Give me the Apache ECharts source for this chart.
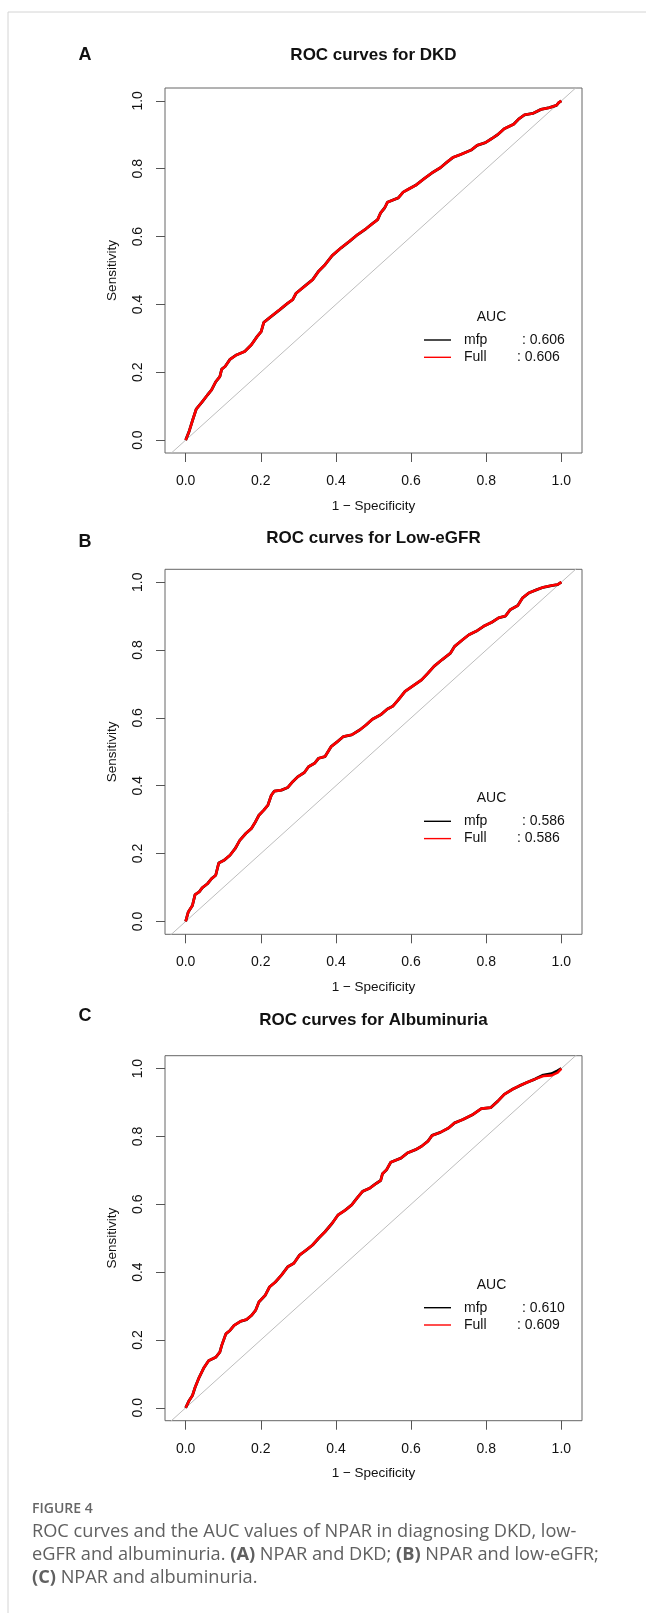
<!DOCTYPE html>
<html>
<head>
<meta charset="utf-8">
<script src="https://cdn.jsdelivr.net/npm/echarts@6/dist/echarts.min.js"></script>
<style>
html,body{margin:0;padding:0;background:#fff}
#chart{width:646px;height:1613px}
</style>
</head>
<body>
<div id="chart"></div>
<script>
// panel texts
const panelTitles = ['ROC curves for DKD', 'ROC curves for Low-eGFR', 'ROC curves for Albuminuria']
const panelLetters = ['A', 'B', 'C']
const aucMfp = ['0.606', '0.586', '0.610']
const aucFull = ['0.606', '0.586', '0.609']
const tickValues = [0, 0.2, 0.4, 0.6, 0.8, 1]
const diagonal = [[-0.1, -0.1], [1.1, 1.1]]

// ROC curves (1 - specificity, sensitivity)
const fprA = [0,0.009,0.018,0.028,0.044,0.058,0.069,0.080,0.091,0.096,0.105,0.118,0.135,0.157,0.175,0.190,0.201,0.208,0.228,0.250,0.272,0.285,0.294,0.316,0.338,0.354,0.371,0.390,0.414,0.436,0.458,0.480,0.497,0.511,0.519,0.530,0.537,0.566,0.579,0.595,0.612,0.634,0.656,0.678,0.694,0.711,0.732,0.760,0.776,0.798,0.815,0.831,0.848,0.873,0.886,0.902,0.924,0.946,0.968,0.987,0.993,1]
const tprA = [0,0.025,0.057,0.091,0.113,0.133,0.148,0.172,0.187,0.209,0.217,0.238,0.251,0.261,0.281,0.305,0.320,0.347,0.365,0.384,0.404,0.414,0.433,0.453,0.473,0.498,0.517,0.544,0.567,0.586,0.606,0.623,0.638,0.650,0.670,0.685,0.701,0.714,0.731,0.741,0.751,0.770,0.788,0.803,0.818,0.833,0.842,0.855,0.869,0.877,0.889,0.901,0.918,0.931,0.946,0.959,0.963,0.975,0.980,0.987,0.995,1]

const fprB = [0,0.007,0.018,0.025,0.036,0.044,0.058,0.069,0.080,0.088,0.102,0.118,0.132,0.144,0.160,0.175,0.186,0.195,0.208,0.219,0.228,0.236,0.255,0.272,0.285,0.299,0.316,0.327,0.343,0.354,0.371,0.387,0.404,0.420,0.442,0.464,0.480,0.497,0.519,0.537,0.551,0.566,0.584,0.606,0.628,0.645,0.661,0.683,0.705,0.716,0.738,0.754,0.776,0.793,0.815,0.833,0.851,0.864,0.884,0.897,0.913,0.935,0.952,0.974,0.990,1]
const tprB = [0,0.028,0.047,0.079,0.087,0.099,0.111,0.126,0.136,0.172,0.180,0.195,0.215,0.239,0.259,0.274,0.294,0.313,0.328,0.343,0.372,0.384,0.387,0.395,0.412,0.427,0.439,0.456,0.466,0.481,0.486,0.515,0.530,0.545,0.550,0.565,0.579,0.596,0.609,0.626,0.634,0.653,0.678,0.695,0.712,0.732,0.752,0.772,0.791,0.811,0.831,0.845,0.857,0.870,0.882,0.895,0.900,0.919,0.931,0.954,0.968,0.978,0.985,0.990,0.993,1]

const fprC = [0,0.009,0.018,0.025,0.036,0.049,0.061,0.080,0.091,0.096,0.107,0.118,0.129,0.146,0.162,0.175,0.186,0.195,0.212,0.223,0.239,0.255,0.272,0.288,0.303,0.321,0.338,0.354,0.371,0.390,0.406,0.425,0.442,0.456,0.471,0.491,0.508,0.519,0.524,0.535,0.546,0.573,0.590,0.612,0.628,0.645,0.656,0.678,0.700,0.716,0.738,0.765,0.787,0.812,0.831,0.848,0.870,0.888,0.908,0.930,0.952,0.974,0.990,1]
const tprC = [0,0.021,0.036,0.060,0.090,0.119,0.139,0.149,0.164,0.184,0.218,0.228,0.243,0.255,0.260,0.272,0.287,0.312,0.332,0.356,0.371,0.391,0.416,0.426,0.450,0.465,0.480,0.500,0.519,0.544,0.569,0.583,0.598,0.618,0.638,0.648,0.662,0.670,0.690,0.702,0.724,0.736,0.751,0.761,0.771,0.786,0.803,0.812,0.825,0.840,0.850,0.865,0.882,0.885,0.904,0.924,0.939,0.949,0.959,0.969,0.978,0.980,0.988,1]
// mfp curve in C only separates from Full at the very end
const tprCmfp = [0,0.021,0.036,0.060,0.090,0.119,0.139,0.149,0.164,0.184,0.218,0.228,0.243,0.255,0.260,0.272,0.287,0.312,0.332,0.356,0.371,0.391,0.416,0.426,0.450,0.465,0.480,0.500,0.519,0.544,0.569,0.583,0.598,0.618,0.638,0.648,0.662,0.670,0.690,0.702,0.724,0.736,0.751,0.761,0.771,0.786,0.803,0.812,0.825,0.840,0.850,0.865,0.882,0.885,0.904,0.924,0.939,0.949,0.959,0.969,0.981,0.985,0.994,1]

const zip = (xs, ys) => xs.slice(0, Math.min(xs.length, ys.length)).map((x, k) => [x, ys[k]])
const mfpCurves = [zip(fprA, tprA), zip(fprB, tprB), zip(fprC, tprCmfp)]
const fullCurves = [zip(fprA, tprA), zip(fprB, tprB), zip(fprC, tprC)]

// layout
const FONT = '"Liberation Sans", Arial, sans-serif'
const panelTops = [88, 569.3, 1055.7]
const titleY = [55, 538, 1020.7]
const letterY = [55, 541.7, 1016]
const boxLeft = 165, boxW = 417, boxH = 365

let grids = [], xAxes = [], yAxes = [], series = [], titles = [], legends = []

panelTops.forEach((top, i) => {
    grids.push({
        left: boxLeft, top: top, width: boxW, height: boxH,
        show: true, borderColor: '#666', borderWidth: 1, backgroundColor: 'transparent',
        containLabel: false, outerBoundsMode: 'none'
    })
    xAxes.push({
        type: 'value', gridIndex: i, min: -0.055, max: 1.055, position: 'bottom',
        axisLine: {show: false, onZero: false}, splitLine: {show: false},
        axisTick: {show: true, length: 9, customValues: tickValues, lineStyle: {color: '#555', width: 1}},
        axisLabel: {customValues: tickValues, formatter: v => v.toFixed(1), margin: 21, color: '#111', fontSize: 14, fontFamily: FONT},
        name: '1 \u2212 Specificity', nameLocation: 'middle', nameGap: 46,
        nameTextStyle: {color: '#111', fontSize: 13.5, fontFamily: FONT}
    })
    yAxes.push({
        type: 'value', gridIndex: i, min: -0.038, max: 1.038, position: 'left',
        axisLine: {show: false, onZero: false}, splitLine: {show: false},
        axisTick: {show: true, length: 9, customValues: tickValues, lineStyle: {color: '#555', width: 1}},
        axisLabel: {customValues: tickValues, formatter: v => v.toFixed(1), rotate: 90, margin: 20, color: '#111', fontSize: 14, fontFamily: FONT},
        name: 'Sensitivity', nameLocation: 'middle', nameGap: 46, nameRotate: 90,
        nameTextStyle: {color: '#111', fontSize: 13.5, fontFamily: FONT}
    })
    series.push({
        type: 'line', name: 'diag', xAxisIndex: i, yAxisIndex: i, data: diagonal,
        showSymbol: false, silent: true, lineStyle: {color: '#bdbdbd', width: 1}, z: 1
    })
    series.push({
        type: 'line', name: 'mfp', xAxisIndex: i, yAxisIndex: i, data: mfpCurves[i],
        showSymbol: false, color: '#000', lineStyle: {color: '#000', width: 2.8}, z: 2
    })
    series.push({
        type: 'line', name: 'Full', xAxisIndex: i, yAxisIndex: i, data: fullCurves[i],
        showSymbol: false, color: '#ff0000', lineStyle: {color: '#ff0000', width: 2.6}, z: 3
    })
    titles.push({
        text: panelTitles[i], left: boxLeft + boxW / 2, top: titleY[i] - 9, textAlign: 'center', padding: 0,
        textStyle: {fontSize: 17, fontWeight: 'bold', fontFamily: FONT, color: '#111', lineHeight: 18}
    })
    titles.push({
        text: panelLetters[i], left: 85, top: letterY[i] - 9, textAlign: 'center', padding: 0,
        textStyle: {fontSize: 18, fontWeight: 'bold', fontFamily: FONT, color: '#111', lineHeight: 18}
    })
    titles.push({
        text: 'AUC', left: 491.5, top: top + 229 - 7, textAlign: 'center', padding: 0,
        textStyle: {fontSize: 14, fontWeight: 'normal', fontFamily: FONT, color: '#111', lineHeight: 14}
    })
    legends.push({
        data: ['mfp', 'Full'], orient: 'vertical', left: 424, top: top + 252 - 7,
        padding: 0, itemGap: 3.3, itemWidth: 27, itemHeight: 1.4, icon: 'rect', selectedMode: false,
        formatter: name => name === 'mfp'
            ? '{g|}{m|mfp}{v|: ' + aucMfp[i] + '}'
            : '{g|}{f|Full}{v|: ' + aucFull[i] + '}',
        textStyle: {
            fontSize: 14, fontFamily: FONT, color: '#111', lineHeight: 14,
            rich: {
                g: {width: 8},
                m: {width: 58, fontSize: 14, fontFamily: FONT, color: '#111', lineHeight: 14},
                f: {width: 53, fontSize: 14, fontFamily: FONT, color: '#111', lineHeight: 14},
                v: {fontSize: 14, fontFamily: FONT, color: '#111', lineHeight: 14}
            }
        }
    })
})

const CAP_FONT = '"Open Sans", "Noto Sans", sans-serif'
const captionText = 'ROC curves and the AUC values of NPAR in diagnosing DKD, low-\n' +
    'eGFR and albuminuria. {b|(A)} NPAR and DKD; {b|(B)} NPAR and low-eGFR;\n' +
    '{b|(C)} NPAR and albuminuria.'

const option = {
    animation: false,
    backgroundColor: '#fff',
    title: titles,
    legend: legends,
    grid: grids,
    xAxis: xAxes,
    yAxis: yAxes,
    series: series,
    graphic: [
        {type: 'line', shape: {x1: 8, y1: 12, x2: 646, y2: 12}, style: {stroke: '#d4d4d4', lineWidth: 1}, silent: true},
        {type: 'line', shape: {x1: 8, y1: 12, x2: 8, y2: 1613}, style: {stroke: '#d4d4d4', lineWidth: 1}, silent: true},
        {type: 'text', x: 32, y: 1509, silent: true,
            style: {text: 'FIGURE 4', fill: '#666', fontSize: 14, fontWeight: 600, fontFamily: CAP_FONT, verticalAlign: 'middle'}},
        {type: 'text', x: 32, y: 1520, silent: true,
            style: {
                text: captionText, fill: '#606060', fontSize: 18.2, fontFamily: CAP_FONT, lineHeight: 23, verticalAlign: 'top',
                rich: {b: {fontWeight: 'bold', fill: '#606060', fontSize: 18.2, fontFamily: CAP_FONT, lineHeight: 23}}
            }}
    ]
}

const chart = echarts.init(document.getElementById('chart'), null, {renderer: 'canvas'})
chart.setOption(option)
</script>
</body>
</html>
